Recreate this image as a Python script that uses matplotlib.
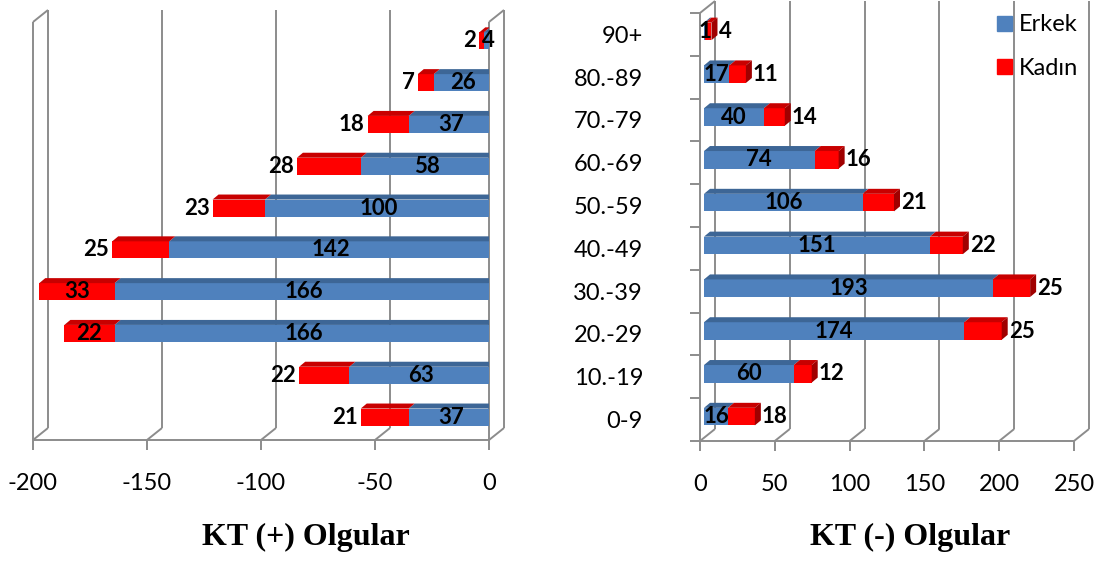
import numpy as np
import matplotlib.pyplot as plt
from matplotlib.patches import Polygon, Patch

W, H = 1101, 561

categories = ['0-9', '10.-19', '20.-29', '30.-39', '40.-49',
              '50.-59', '60.-69', '70.-79', '80.-89', '90+']
pos_erkek = [37, 63, 166, 166, 142, 100, 58, 37, 26, 4]
pos_kadin = [21, 22, 22, 33, 25, 23, 28, 18, 7, 2]
neg_erkek = [16, 60, 174, 193, 151, 106, 74, 40, 17, 1]
neg_kadin = [18, 12, 25, 25, 22, 21, 16, 14, 11, 4]
pos_ticks = [-200, -150, -100, -50, 0]
neg_ticks = [0, 50, 100, 150, 200, 250]

BLUE, BLUE_TOP, BLUE_SIDE = '#4F81BD', '#3D6696', '#2F5582'
RED, RED_TOP, RED_SIDE = '#FF0000', '#C80000', '#A00000'
GRID = '#8C8C8C'
LW = 1.4

plt.rcParams['font.family'] = ['Lato', 'DejaVu Sans']

fig = plt.figure(figsize=(W / 100, H / 100), dpi=100)


def px_axes(x0, x1, ytop, ybot):
    return fig.add_axes([x0 / W, 1 - ybot / H, (x1 - x0) / W, (ybot - ytop) / H])


def scale(ax, x0, x1, ytop, ybot):
    xl = ax.get_xlim()
    return (xl[1] - xl[0]) / (x1 - x0), 10.0 / (ybot - ytop)


def frame3d(ax, ticks, walls, sx, sy, dpx=15, dpy=12):
    # back gridlines, floor lines and wall edges of the pseudo-3D box
    dx, dy = dpx * sx, dpy * sy
    kw = dict(color=GRID, lw=LW, clip_on=False, zorder=1, solid_capstyle='butt')
    for t in ticks:
        ax.plot([t + dx, t + dx], [-0.5 + dy, 9.5 + dy], **kw)
        ax.plot([t, t + dx], [-0.5, -0.5 + dy], **kw)
    ax.plot([ticks[0], ticks[-1]], [-0.5, -0.5], **kw)
    for w in walls:
        ax.plot([w, w], [-0.5, 9.5], **kw)
        ax.plot([w, w + dx], [9.5, 9.5 + dy], **kw)


def faces(ax, lefts, rights, ys, h, top, side, sx, sy, with_side):
    # top face (and optionally right side face) of each bar segment
    ddx, ddy = 6 * sx, 5 * sy
    for l, r, y, s in zip(lefts, rights, ys, with_side):
        yt, yb = y + h / 2, y - h / 2
        ax.add_patch(Polygon([(l, yt), (r, yt), (r + ddx, yt + ddy), (l + ddx, yt + ddy)],
                             closed=True, facecolor=top, edgecolor='none', zorder=3))
        if s:
            ax.add_patch(Polygon([(r, yb), (r, yt), (r + ddx, yt + ddy), (r + ddx, yb + ddy)],
                                 closed=True, facecolor=side, edgecolor='none', zorder=3))


def style(ax, ticks, xlim):
    ax.set_xlim(*xlim)
    ax.set_ylim(-0.5, 9.5)
    for sp in ax.spines.values():
        sp.set_visible(False)
    ax.set_xticks(ticks)
    ax.set_xticklabels([str(t) for t in ticks])
    ax.tick_params(axis='x', length=7, width=LW, color=GRID, pad=17, labelsize=17)
    ax.patch.set_alpha(0)


y = np.arange(len(categories))
bar_h = 0.41
lab = dict(fontsize=16, fontweight='bold', color='black', va='center', zorder=5)

# ---- KT (+) : values grow to the left ----
L = (33, 489, 22, 440)
axl = px_axes(*L)
style(axl, pos_ticks, (-200, 0))
axl.set_yticks([])
sx, sy = scale(axl, *L)
frame3d(axl, pos_ticks, [-200, 0], sx, sy)
ox, oy = 4 * sx, 2 * sy
pe = np.array(pos_erkek)
pk = np.array(pos_kadin)
axl.barh(y + oy, -pe, left=ox, height=bar_h, color=BLUE, zorder=2)
axl.barh(y + oy, -pk, left=-pe + ox, height=bar_h, color=RED, zorder=2)
faces(axl, -pe + ox, np.zeros(10) + ox, y + oy, bar_h, BLUE_TOP, BLUE_SIDE, sx, sy, [True] * 10)
faces(axl, -(pe + pk) + ox, -pe + ox, y + oy, bar_h, RED_TOP, RED_SIDE, sx, sy, [False] * 10)
for i in range(10):
    axl.text(-pe[i] / 2 + ox, y[i] + oy, str(pe[i]), ha='center', **lab)
    total = pe[i] + pk[i]
    if total > 185:
        axl.text(-(pe[i] + pk[i] / 2) + ox, y[i] + oy, str(pk[i]), ha='center', **lab)
    else:
        axl.text(-total + ox - 3 * sx, y[i] + oy, str(pk[i]), ha='right', **lab)

# ---- KT (-) : values grow to the right ----
R = (700, 1074, 13, 441)
axr = px_axes(*R)
style(axr, neg_ticks, (0, 250))
sx, sy = scale(axr, *R)
frame3d(axr, neg_ticks, [0], sx, sy)
axr.set_yticks(y)
axr.set_yticklabels(categories)
axr.set_yticks(np.arange(-0.5, 10, 1.0), minor=True)
axr.tick_params(axis='y', which='major', length=0, pad=41, labelsize=17)
axr.tick_params(axis='y', which='minor', length=7, width=LW, color=GRID)
ox, oy = 4 * sx, 3 * sy
ne = np.array(neg_erkek)
nk = np.array(neg_kadin)
axr.barh(y + oy, ne, left=ox, height=bar_h, color=BLUE, zorder=2)
axr.barh(y + oy, nk, left=ne + ox, height=bar_h, color=RED, zorder=2)
faces(axr, np.zeros(10) + ox, ne + ox, y + oy, bar_h, BLUE_TOP, BLUE_SIDE, sx, sy, [False] * 10)
faces(axr, ne + ox, ne + nk + ox, y + oy, bar_h, RED_TOP, RED_SIDE, sx, sy, [True] * 10)
for i in range(10):
    axr.text(ne[i] / 2 + ox, y[i] + oy, str(ne[i]), ha='center', **lab)
    axr.text(ne[i] + nk[i] + ox + 7 * sx, y[i] + oy, str(nk[i]), ha='left', **lab)

fig.legend(handles=[Patch(color=BLUE, label='Erkek'), Patch(color=RED, label='Kadın')],
           loc='upper left', bbox_to_anchor=(988 / W, 1 - 5 / H), frameon=False,
           fontsize=17, handlelength=0.6, handleheight=0.6, handletextpad=0.3,
           labelspacing=0.95, borderaxespad=0)

title_kw = dict(ha='center', va='center', family='Liberation Serif', fontweight='bold', fontsize=23)
fig.text(306 / W, 1 - 537 / H, 'KT (+) Olgular', **title_kw)
fig.text(910 / W, 1 - 537 / H, 'KT (-) Olgular', **title_kw)

fig.savefig('out.png', dpi=100)
